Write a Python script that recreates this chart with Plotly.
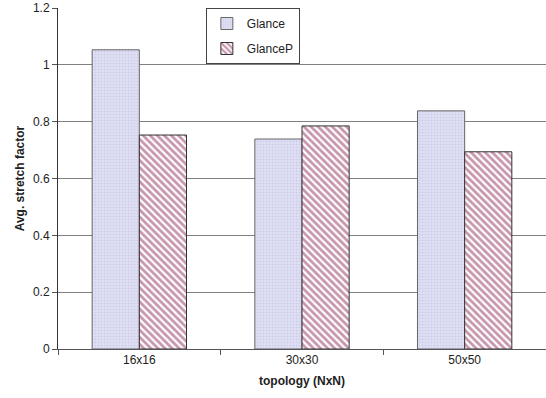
import plotly.graph_objects as go

categories = ["16x16", "30x30", "50x50"]
glance = [1.053, 0.739, 0.838]
glancep = [0.753, 0.785, 0.694]
y_ticks = [0, 0.2, 0.4, 0.6, 0.8, 1, 1.2]
y_tick_labels = ["0", "0.2", "0.4", "0.6", "0.8", "1", "1.2"]

fig = go.Figure()
fig.add_trace(go.Bar(
    name="Glance", x=categories, y=glance, legendgroup="a",
    marker=dict(color="#d8d8f0", line=dict(color="#666666", width=1),
                pattern=dict(shape=".", fgcolor="#b4b4de", bgcolor="#e2e2f5", size=3, solidity=0.4)),
))
fig.add_trace(go.Bar(
    name="GlanceP", x=categories, y=glancep, legendgroup="b",
    marker=dict(color="#993366", line=dict(color="#333333", width=1),
                pattern=dict(shape="\\", fgcolor="#8f2d5c", bgcolor="#ffffff", size=5, solidity=0.55)),
))

fig.update_layout(
    width=546, height=398,
    margin=dict(l=58, r=0, t=8, b=49),
    paper_bgcolor="white", plot_bgcolor="white",
    barmode="group", bargap=0.42, bargroupgap=0,
    font=dict(family="Liberation Sans, Arial, sans-serif", size=12, color="#222222"),
    showlegend=True,
    legend=dict(x=0.303, y=1.0, xanchor="left", yanchor="top",
                bordercolor="#444444", borderwidth=1, bgcolor="white",
                font=dict(size=12), traceorder="grouped", tracegroupgap=6, itemwidth=30),
    xaxis=dict(
        showline=True, linecolor="#555555", linewidth=1,
        ticks="outside", tickson="boundaries", ticklen=5, tickcolor="#555555",
        title=dict(text="<b>topology (NxN)</b>", font=dict(size=12), standoff=10),
        showgrid=False,
    ),
    yaxis=dict(
        range=[0, 1.2], tickvals=y_ticks, ticktext=y_tick_labels,
        showline=True, linecolor="#333333", linewidth=1,
        ticks="outside", ticklen=5, tickcolor="#555555",
        showgrid=True, gridcolor="#808080", gridwidth=1,
        title=dict(text="<b>Avg. stretch factor</b>", font=dict(size=12), standoff=5),
        zeroline=False,
    ),
)

fig.write_html("out.html")
